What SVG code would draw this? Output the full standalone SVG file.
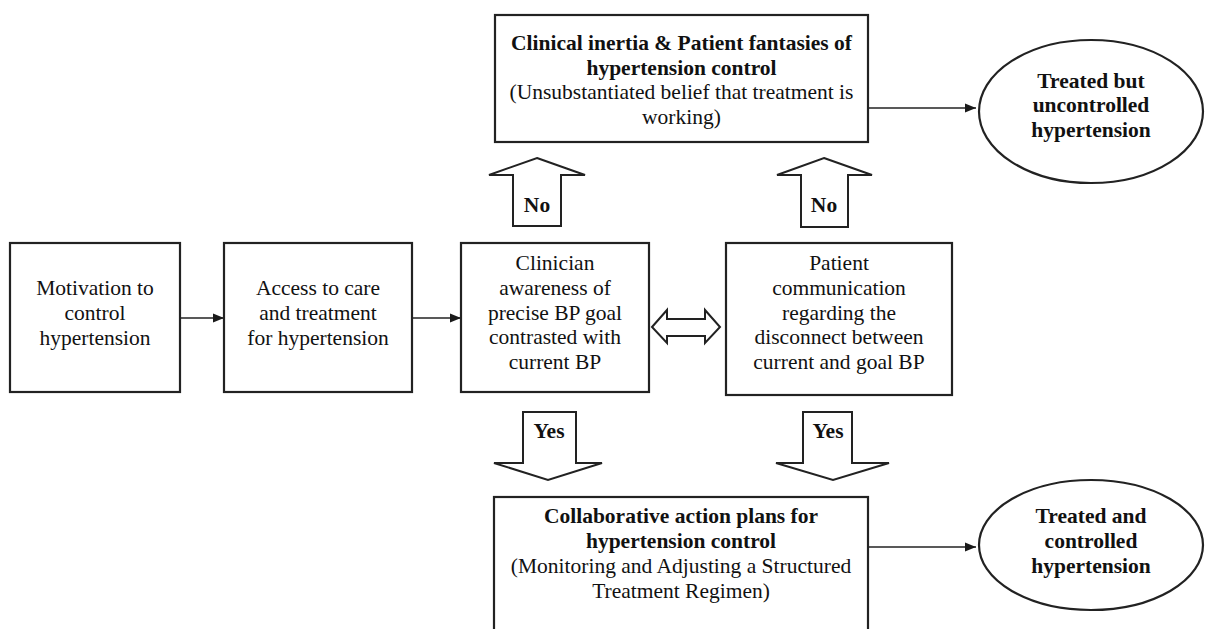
<svg xmlns="http://www.w3.org/2000/svg" width="1205" height="629" viewBox="0 0 1205 629">
<defs>
<marker id="ah" viewBox="0 0 10 10" refX="10" refY="5" markerWidth="11" markerHeight="11" markerUnits="userSpaceOnUse" orient="auto">
<path d="M0,1 L10,5 L0,9 Z" fill="#1a1a1a"/>
</marker>
<style>
.box{fill:#fff;stroke:#222;stroke-width:2.2}
.hol{fill:#fff;stroke:#222;stroke-width:2;stroke-linejoin:miter}
.con{stroke:#222;stroke-width:1.4;fill:none}
text{font-family:"Liberation Serif","Times New Roman",serif;font-size:21.5px;fill:#111;text-anchor:middle}
.b{font-weight:bold}
</style>
</defs>
<rect width="1205" height="629" fill="#fff"/>
<g id="connectors">
<line class="con" x1="180" y1="318" x2="224" y2="318" marker-end="url(#ah)"/>
<line class="con" x1="412" y1="318" x2="461" y2="318" marker-end="url(#ah)"/>
<line class="con" x1="868" y1="108" x2="976" y2="108" marker-end="url(#ah)"/>
<line class="con" x1="868" y1="547" x2="976" y2="547" marker-end="url(#ah)"/>
<polygon class="hol" points="652,327 667,310 667,319 705,319 705,310 720,327 705,343 705,336 667,336 667,343"/>
<g id="no-left"><polygon class="hol" points="537,158 585,175 561,175 561,226 513,226 513,175 489,175"/><text class="b" x="537" y="212">No</text></g>
<g id="no-right"><polygon class="hol" points="824,158 872,175 848,175 848,227 801,227 801,175 777,175"/><text class="b" x="824" y="212">No</text></g>
<g id="yes-left"><polygon class="hol" points="523,412 576,412 576,463 602,463 548,480 494,463 523,463"/><text class="b" x="549" y="438">Yes</text></g>
<g id="yes-right"><polygon class="hol" points="803,412 852,412 852,463 889,463 833,480 776,463 803,463"/><text class="b" x="828" y="438">Yes</text></g>
</g>
<g id="inertia">
<rect class="box" x="495" y="15" width="373" height="127"/>
<text class="b" x="681.5" y="50">Clinical inertia &amp; Patient fantasies of</text>
<text class="b" x="681.5" y="74.5">hypertension control</text>
<text x="681.5" y="99">(Unsubstantiated belief that treatment is</text>
<text x="681.5" y="123.5">working)</text>
</g>
<g id="uncontrolled">
<ellipse class="box" cx="1091" cy="111.5" rx="112" ry="71.5"/>
<text class="b" x="1091" y="88">Treated but</text>
<text class="b" x="1091" y="112">uncontrolled</text>
<text class="b" x="1091" y="137">hypertension</text>
</g>
<g id="motivation">
<rect class="box" x="10" y="243" width="170" height="149"/>
<text x="95" y="295">Motivation to</text>
<text x="95" y="320">control</text>
<text x="95" y="345">hypertension</text>
</g>
<g id="access">
<rect class="box" x="224" y="243" width="188" height="149"/>
<text x="318" y="295">Access to care</text>
<text x="318" y="320">and treatment</text>
<text x="318" y="345">for hypertension</text>
</g>
<g id="clinician">
<rect class="box" x="461" y="243" width="188" height="149"/>
<text x="555" y="270">Clinician</text>
<text x="555" y="295">awareness of</text>
<text x="555" y="319.5">precise BP goal</text>
<text x="555" y="344">contrasted with</text>
<text x="555" y="369">current BP</text>
</g>
<g id="patient">
<rect class="box" x="726" y="243" width="226" height="152"/>
<text x="839" y="270">Patient</text>
<text x="839" y="295">communication</text>
<text x="839" y="319.5">regarding the</text>
<text x="839" y="344">disconnect between</text>
<text x="839" y="369">current and goal BP</text>
</g>
<g id="collaborative">
<rect class="box" x="494" y="497" width="374" height="150"/>
<text class="b" x="681" y="523">Collaborative action plans for</text>
<text class="b" x="681" y="548">hypertension control</text>
<text x="681" y="573">(Monitoring and Adjusting a Structured</text>
<text x="681" y="598">Treatment Regimen)</text>
</g>
<g id="controlled">
<ellipse class="box" cx="1091" cy="545" rx="112" ry="65"/>
<text class="b" x="1091" y="523">Treated and</text>
<text class="b" x="1091" y="548">controlled</text>
<text class="b" x="1091" y="573">hypertension</text>
</g>
</svg>
